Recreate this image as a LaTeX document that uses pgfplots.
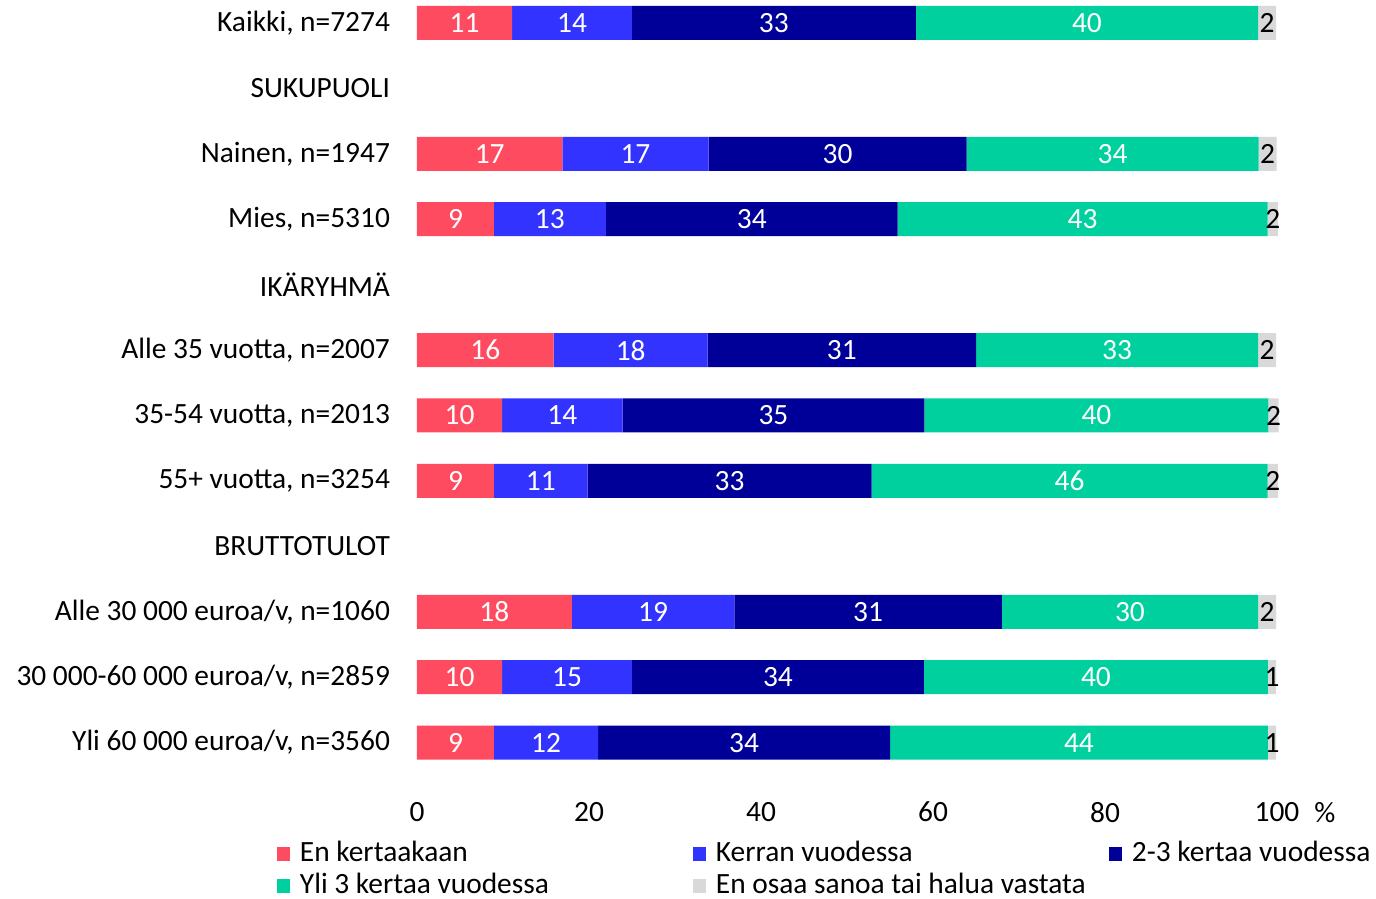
\documentclass[border=0pt]{standalone}
\usepackage{pgfplots}
\pgfplotsset{compat=1.18}
\usepackage{pgfplotstable}
\usepackage{fontspec}
\setmainfont{Carlito}
\definecolor{cRed}{HTML}{FF4B5F}
\definecolor{cBlue}{HTML}{3333FF}
\definecolor{cNavy}{HTML}{000099}
\definecolor{cGreen}{HTML}{00D09E}
\definecolor{cGray}{HTML}{D9D9D9}
\newcommand{\fs}{\fontsize{14.7}{17.6}\selectfont}

\pgfplotstableread{
y x lab
0 11.05 11
2 16.9 17
3 8.95 9
5 15.9 16
6 9.9 10
7 8.95 9
9 18.0 18
10 9.9 10
11 8.95 9
}\tRed
\pgfplotstableread{
y x lab
0 13.95 14
2 17.0 17
3 13.0 13
5 17.9 18
6 14.0 14
7 10.9 11
9 18.9 19
10 15.1 15
11 12.1 12
}\tBlue
\pgfplotstableread{
y x lab
0 33.0 33
2 30.0 30
3 33.95 34
5 31.2 31
6 35.1 35
7 33.0 33
9 31.1 31
10 33.95 34
11 33.95 34
}\tNavy
\pgfplotstableread{
y x lab
0 39.8 40
2 33.95 34
3 43.0 43
5 32.8 33
6 40.0 40
7 46.05 46
9 29.8 30
10 40.0 40
11 43.95 44
}\tGreen
\pgfplotstableread{
y x lab
0 2.1 2
2 2.1 2
3 1.2 2
5 2.1 2
6 1.2 2
7 1.2 2
9 2.1 2
10 0.95 1
11 0.95 1
}\tGray

\pgfplotsset{sqleg/.style={legend image code/.code={\fill[##1] (0pt,-3.5pt) rectangle (6.5pt,3.5pt);}}}

\begin{document}
\begin{tikzpicture}
\useasboundingbox (-208.5pt,-52pt) rectangle (479.5pt,397.5pt);
\begin{axis}[
  scale only axis, width=430pt, height=397.5pt,
  xbar stacked, bar width=17pt,
  xmin=0, xmax=100, ymin=-0.35, ymax=11.8, y dir=reverse,
  clip=false,
  axis line style={draw=none}, major tick length=0pt,
  xtick={0,20,...,100}, ytick={0,...,11},
  yticklabels={{Kaikki, n=7274},SUKUPUOLI,{Nainen, n=1947},{Mies, n=5310},IKÄRYHMÄ,{Alle 35 vuotta, n=2007},{35-54 vuotta, n=2013},{55+ vuotta, n=3254},BRUTTOTULOT,{Alle 30 000 euroa/v, n=1060},{30 000-60 000 euroa/v, n=2859},{Yli 60 000 euroa/v, n=3560}},
  /pgf/number format/assume math mode=true,
  xticklabel style={font=\fs},
  yticklabel style={font=\fs, xshift=-10pt},
  xlabel={\%},
  xlabel style={at={(axis description cs:1,0)}, anchor=north, xshift=24pt, font=\fs},
  point meta=explicit symbolic,
  nodes near coords,
  every node near coord/.append style={anchor=center, font=\fs, text=white},
  legend columns=3,
  legend cell align=left,
  legend style={draw=none, fill=none, at={(axis description cs:-0.1628,-0.058)}, anchor=north west, inner sep=0pt, outer sep=0pt, row sep=3.5pt, font=\fs, nodes={inner sep=0pt, text height=10pt, text depth=2.5pt}, /tikz/every odd column/.append style={column sep=5pt}},
]
\addplot[fill=cRed, draw=none, sqleg] table[x=x, y=y, meta=lab]{\tRed};
\addlegendentry{\makebox[196.5pt][l]{En kertaakaan}}
\addplot[fill=cBlue, draw=none, sqleg] table[x=x, y=y, meta=lab]{\tBlue};
\addlegendentry{\makebox[196.5pt][l]{Kerran vuodessa}}
\addplot[fill=cNavy, draw=none, sqleg] table[x=x, y=y, meta=lab]{\tNavy};
\addlegendentry{2-3 kertaa vuodessa}
\addplot[fill=cGreen, draw=none, sqleg] table[x=x, y=y, meta=lab]{\tGreen};
\addlegendentry{\makebox[196.5pt][l]{Yli 3 kertaa vuodessa}}
\addplot[fill=cGray, draw=none, sqleg, every node near coord/.append style={text=black}] table[x=x, y=y, meta=lab]{\tGray};
\addlegendentry{En osaa sanoa tai halua vastata}
\end{axis}
\end{tikzpicture}
\end{document}
